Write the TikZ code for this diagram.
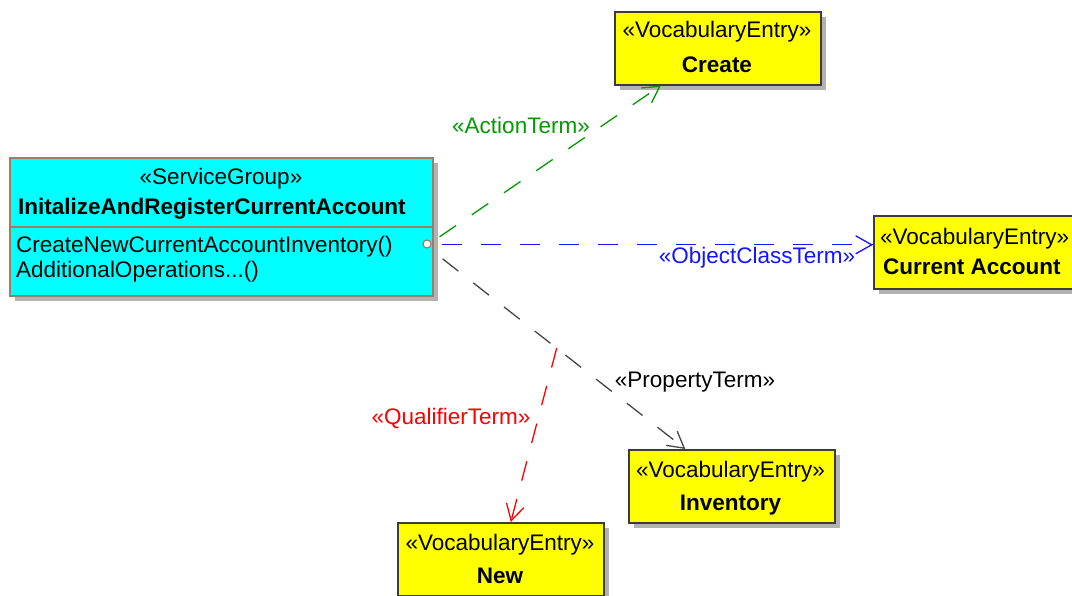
\documentclass[tikz,border=0pt]{standalone}
\usepackage{fontspec}
\setmainfont{Liberation Sans}
\usetikzlibrary{arrows.meta,shadows,calc}

\definecolor{sgfill}{RGB}{0,255,255}
\definecolor{vefill}{RGB}{255,255,0}
\definecolor{sgborder}{RGB}{155,125,105}
\definecolor{veborder}{RGB}{60,60,60}
\definecolor{boxshadow}{RGB}{178,178,178}
\definecolor{actiongreen}{RGB}{0,155,0}
\definecolor{objblue}{RGB}{20,20,255}
\definecolor{qualred}{RGB}{255,0,0}
\definecolor{propgray}{RGB}{70,70,70}

\newcommand{\umlsize}{\fontsize{22.5}{27}\selectfont}

\tikzset{
  uml/.style={font=\umlsize},
  umlbold/.style={font=\umlsize\bfseries},
  boxshadow/.style={general shadow={fill=boxshadow, shadow xshift=5pt, shadow yshift=-5pt}},
  servicebox/.style={draw=sgborder, line width=1.6pt, fill=sgfill, boxshadow,
    rectangle, anchor=north west, inner sep=0pt, minimum width=423pt, minimum height=138pt},
  vocabbox/.style={draw=veborder, line width=1.6pt, fill=vefill, boxshadow,
    rectangle, anchor=north west, inner sep=0pt, minimum width=206pt, minimum height=73pt},
  txt/.style={uml, inner sep=0pt, anchor=base},
  txtl/.style={uml, inner sep=0pt, anchor=base west},
  dep/.style={line width=1.3pt, dash pattern=on 20pt off 19pt},
  deptip/.style={line width=1.3pt, solid,
    -{Straight Barb[length=16pt, width=18pt, line width=1.3pt]}},
}

\begin{document}
\begin{tikzpicture}[x=1pt, y=-1pt]
\useasboundingbox (0,0) rectangle (1072,596);
\clip (0,0) rectangle (1072,596);

% service group class
\node[servicebox] (main) at (9,157) {};
\draw[sgborder, line width=1.6pt] (main.west) -- (main.east);
\node[txt] (mainst) at (221,185) {«ServiceGroup»};
\node[txtl, umlbold] (mainname) at (18,215) {InitalizeAndRegisterCurrentAccount};
\node[txtl] (op1) at (16,253) {CreateNewCurrentAccountInventory()};
\node[txtl] (op2) at (16,278) {AdditionalOperations...()};
\node[circle, draw=sgborder, line width=1.2pt, fill=white, inner sep=0pt, minimum size=8pt] (port) at (427,244) {};

% vocabulary entries
\node[vocabbox] (create) at (614,11) {};
\node[txt] (createst) at (717,38) {«VocabularyEntry»};
\node[txt, umlbold] (createname) at (717,73) {Create};

\node[vocabbox] (curacc) at (873,215) {};
\node[txtl] (curaccst) at (880,245) {«VocabularyEntry»};
\node[txtl, umlbold] (curaccname) at (883,275) {Current Account};

\node[vocabbox] (inventory) at (628,449) {};
\node[txt] (inventoryst) at (730.5,477) {«VocabularyEntry»};
\node[txt, umlbold] (inventoryname) at (730.5,510) {Inventory};

\node[vocabbox] (new) at (397,522) {};
\node[txt] (newst) at (500,550) {«VocabularyEntry»};
\node[txt, umlbold] (newname) at (500,583) {New};

% dependency end points on the class and entry borders
\coordinate (aStart) at ([shift={(6pt,-10pt)}]main.east);
\coordinate (aEnd) at ([xshift=-57pt]create.south);
\coordinate (oStart) at ([shift={(8pt,-18pt)}]main.east);
\coordinate (oEnd) at ([yshift=7.5pt]curacc.west);
\coordinate (pStart) at ([shift={(9pt,-32pt)}]main.east);
\coordinate (pEnd) at ([xshift=-46.5pt]inventory.north);
\path (pStart) -- (pEnd) coordinate[pos=0.47] (qStart);
\coordinate (qEnd) at ([xshift=10pt]new.north);

% dependencies: dashed shaft, then a solid open tip
\draw[dep, actiongreen] (aStart) -- (aEnd);
\draw[deptip, actiongreen] ($(aEnd)!2pt!(aStart)$) -- (aEnd);
\draw[dep, objblue] (oStart) -- (oEnd);
\draw[deptip, objblue] ($(oEnd)!2pt!(oStart)$) -- (oEnd);
\draw[dep, propgray] (pStart) -- (pEnd);
\draw[deptip, propgray] ($(pEnd)!2pt!(pStart)$) -- (pEnd);
\draw[dep, qualred] (qStart) -- (qEnd);
\draw[deptip, qualred] ($(qEnd)!2pt!(qStart)$) -- (qEnd);

% dependency labels
\node[txt, text=actiongreen] (actionlbl) at (521,134) {«ActionTerm»};
\node[txt, text=objblue] (objlbl) at (757,264) {«ObjectClassTerm»};
\node[txt, text=black] (proplbl) at (695,387) {«PropertyTerm»};
\node[txt, text=qualred] (quallbl) at (451,424) {«QualifierTerm»};
\end{tikzpicture}
\end{document}
